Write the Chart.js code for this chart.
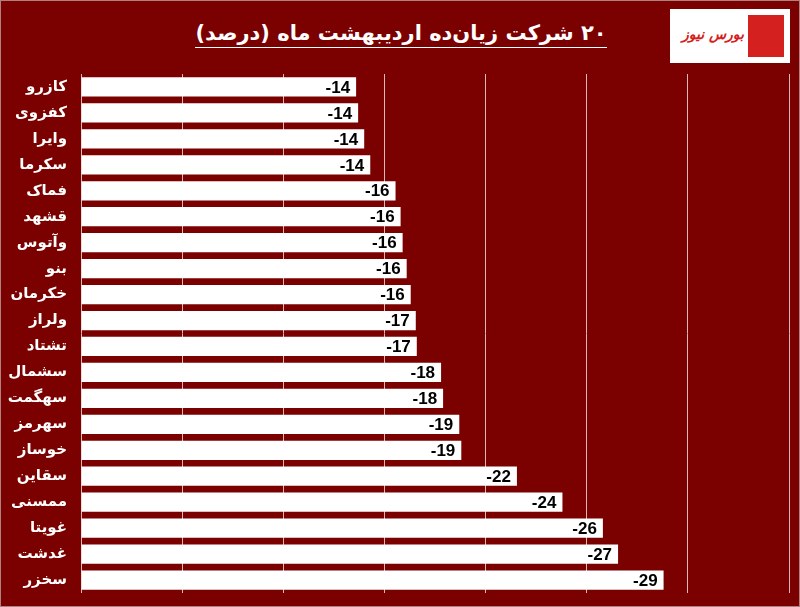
<!DOCTYPE html>
<html>
<head>
<meta charset="utf-8">
<script src="https://cdn.jsdelivr.net/npm/chart.js@4"></script>
<style>
  body { margin: 0; background: #7b0000; }
  #wrap { position: relative; width: 800px; height: 607px; background: #7b0000; box-sizing: border-box; border: 1px solid #b08080; }
  #title { position: absolute; top: 20px; left: 160px; width: 480px; text-align: center; direction: rtl;
    font-family: "DejaVu Sans", sans-serif; font-weight: bold; font-size: 21px; color: #fff; }
  #title span { border-bottom: 1.5px solid #fff; padding-bottom: 2px; }
  #logo { position: absolute; top: 8px; left: 669px; width: 120px; height: 54px; background: #fff;
    font-family: "DejaVu Sans", sans-serif; font-weight: bold; font-style: italic; color: #d52020; font-size: 14px;
    direction: rtl; white-space: nowrap; }
  #logo b { position: absolute; right: 6px; top: 6px; width: 36px; height: 42px; background: #d52020; }
  #logo i { position: absolute; right: 46px; top: 17px; }
  canvas { position: absolute; top: 0; left: 0; }
</style>
</head>
<body>
<div id="wrap">
  <div id="title"><span>۲۰ شرکت زیان‌ده اردیبهشت ماه (درصد)</span></div>
  <div id="logo"><b></b><i>بورس نیوز</i></div>
  <canvas id="c" width="800" height="607"></canvas>
</div>
<script>
const companies = ["کازرو", "کفزوی", "وایرا", "سکرما", "فماک", "قشهد", "وآتوس", "بنو", "خکرمان", "ولراز",
  "تشتاد", "سشمال", "سهگمت", "سهرمز", "خوساز", "سقاین", "ممسنی", "غویتا", "غدشت", "سخزر"];
const changes = [-13.6, -13.7, -14.0, -14.3, -15.55, -15.8, -15.9, -16.1, -16.3, -16.55,
  -16.6, -17.8, -17.9, -18.7, -18.8, -21.55, -23.8, -25.8, -26.55, -28.8];
const xTicks = [0, -5, -10, -15, -20, -25, -30, -35];

const valueLabels = {
  id: "valueLabels",
  afterDatasetsDraw(chart) {
    const ctx = chart.ctx;
    const meta = chart.getDatasetMeta(0);
    ctx.save();
    ctx.font = "bold 17px 'Liberation Sans', sans-serif";
    ctx.fillStyle = "#000";
    ctx.textAlign = "right";
    ctx.textBaseline = "middle";
    meta.data.forEach((bar, i) => {
      ctx.fillText(Math.round(changes[i]), bar.x - 6, bar.y + 1);
    });
    ctx.restore();
  }
};

new Chart(document.getElementById("c"), {
  type: "bar",
  data: {
    labels: companies,
    datasets: [{
      data: changes,
      backgroundColor: "#ffffff",
      borderWidth: 0,
      barPercentage: 0.74,
      categoryPercentage: 1
    }]
  },
  options: {
    indexAxis: "y",
    responsive: false,
    animation: false,
    layout: { padding: { top: 73, right: 12, bottom: 14, left: 0 } },
    plugins: { legend: { display: false }, tooltip: { enabled: false } },
    scales: {
      x: {
        min: -35, max: 0, reverse: true,
        afterBuildTicks(axis) { axis.ticks = xTicks.map(v => ({ value: v })); },
        ticks: { display: false },
        grid: { color: "#d8b8b8", lineWidth: 1, drawTicks: false },
        border: { display: false }
      },
      y: {
        afterFit(axis) { axis.width = 80; },
        ticks: {
          color: "#fff",
          font: { family: "'DejaVu Sans', sans-serif", size: 15, weight: "bold" },
          padding: 6
        },
        grid: { display: false },
        border: { display: false }
      }
    }
  },
  plugins: [valueLabels]
});
</script>
</body>
</html>
